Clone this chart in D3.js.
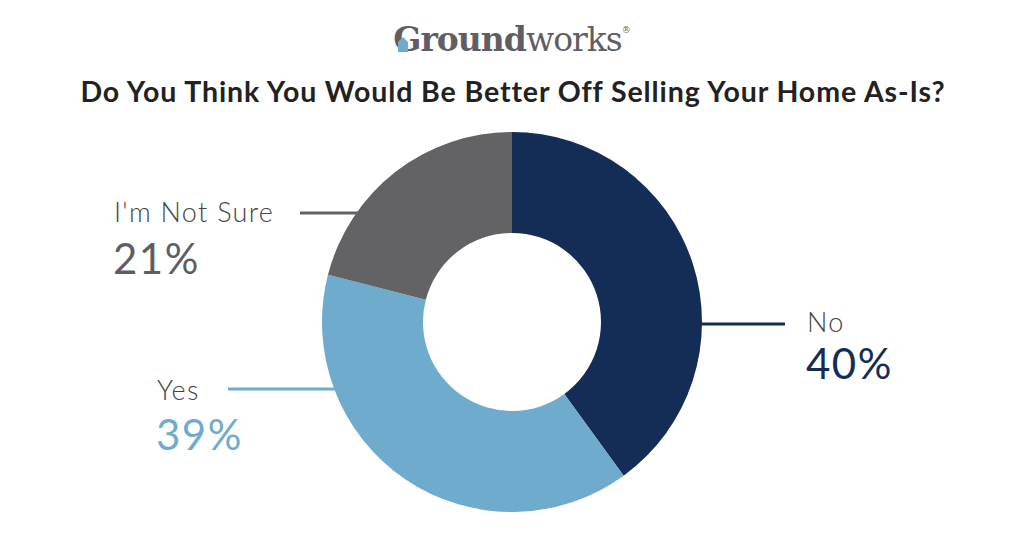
<!DOCTYPE html>
<html>
<head>
<meta charset="utf-8">
<script src="https://cdn.jsdelivr.net/npm/d3@7"></script>
<style>
  body { margin: 0; background: #fff; }
  svg { display: block; }
</style>
</head>
<body>
<div id="chart"></div>
<script>
const categories = ["No", "Yes", "I'm Not Sure"];
const values = [40, 39, 21];
const colors = ["#142d57", "#6fabcd", "#636366"];
const pctColors = ["#142d57", "#6fabcd", "#5e5e62"];

const width = 1024, height = 536;
const cx = 512, cy = 322, outerR = 190, innerR = 89;

const svg = d3.select("#chart").append("svg")
  .attr("width", width)
  .attr("height", height);

// logo
const logo = svg.append("text")
  .attr("x", 512)
  .attr("y", 51)
  .attr("text-anchor", "middle")
  .attr("font-family", "DejaVu Serif, serif")
  .attr("font-size", 33)
  .attr("fill", "#5f5f63");
logo.append("tspan").attr("font-weight", "bold").attr("letter-spacing", -1).text("Ground");
logo.append("tspan").attr("letter-spacing", -1).text("works");
logo.append("tspan").attr("font-size", 9).attr("dy", -18).text("®");

svg.append("path")
  .attr("d", "M398,52 L398,42 L403,37 L408,42 L408,52 Z")
  .attr("fill", "#6fabcd");

// title
svg.append("text")
  .attr("x", 513)
  .attr("y", 102)
  .attr("text-anchor", "middle")
  .attr("font-family", "Lato, sans-serif")
  .attr("font-weight", "bold")
  .attr("font-size", 28.5)
  .attr("letter-spacing", 0.9)
  .attr("fill", "#222")
  .text("Do You Think You Would Be Better Off Selling Your Home As-Is?");

const data = categories.map((c, i) => ({ name: c, value: values[i], color: colors[i], pct: pctColors[i] }));

const pie = d3.pie().sort(null).value(d => d.value);
const arc = d3.arc().innerRadius(innerR).outerRadius(outerR);
const arcs = pie(data);

// label layout
const layout = {
  "No": { y: 324, side: 1, tx: 807, lineEnd: 785, ny: 332, py: 379 },
  "Yes": { y: 389, side: -1, tx: 157, lineEnd: 228, ny: 400, py: 450 },
  "I'm Not Sure": { y: 213, side: -1, tx: 114, lineEnd: 300, ny: 222, py: 274 }
};

const g = svg.append("g").attr("transform", `translate(${cx},${cy})`);

arcs.forEach(a => {
  const L = layout[a.data.name];
  const dy = L.y - cy;
  const edge = cx + L.side * (Math.sqrt(outerR * outerR - dy * dy) - 2);
  svg.append("line")
    .attr("x1", L.lineEnd).attr("x2", edge)
    .attr("y1", L.y).attr("y2", L.y)
    .attr("stroke", a.data.color)
    .attr("stroke-width", 3);
});

g.selectAll("path.slice")
  .data(arcs)
  .join("path")
  .attr("class", "slice")
  .attr("d", arc)
  .attr("fill", d => d.data.color);

arcs.forEach(a => {
  const L = layout[a.data.name];
  svg.append("text")
    .attr("x", L.tx)
    .attr("y", L.ny)
    .attr("font-family", "Lato, sans-serif")
    .attr("font-weight", 300)
    .attr("font-size", 27)
    .attr("letter-spacing", 1.3)
    .attr("fill", "#444")
    .text(a.data.name);
  svg.append("text")
    .attr("x", L.tx - 1)
    .attr("y", L.py)
    .attr("font-family", "Lato, sans-serif")
    .attr("font-weight", 400)
    .attr("font-size", 42)
    .attr("letter-spacing", 1.5)
    .attr("fill", a.data.pct)
    .text(a.data.value + "%");
});
</script>
</body>
</html>
